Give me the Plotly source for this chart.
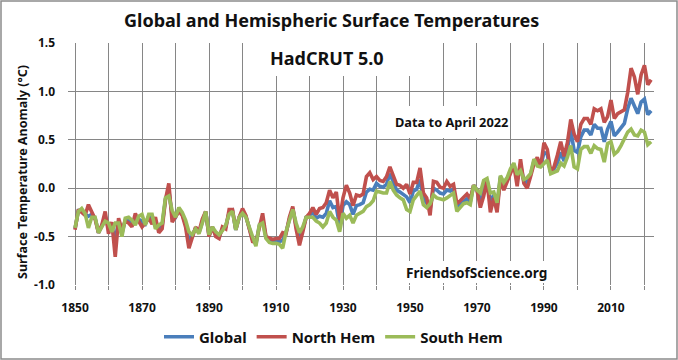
import plotly.graph_objects as go

years = list(range(1850, 2023))

global_anom = [
    -0.42, -0.23, -0.23, -0.27, -0.29, -0.27, -0.31, -0.46, -0.39, -0.29,
    -0.42, -0.40, -0.54, -0.34, -0.47, -0.33, -0.33, -0.37, -0.32, -0.32,
    -0.34, -0.37, -0.29, -0.32, -0.36, -0.42, -0.39, -0.11, -0.02, -0.29,
    -0.30, -0.22, -0.27, -0.37, -0.54, -0.49, -0.41, -0.46, -0.34, -0.24,
    -0.49, -0.40, -0.48, -0.50, -0.42, -0.40, -0.25, -0.23, -0.43, -0.30,
    -0.24, -0.29, -0.41, -0.53, -0.58, -0.39, -0.31, -0.51, -0.54, -0.55,
    -0.55, -0.55, -0.54, -0.46, -0.32, -0.21, -0.39, -0.53, -0.43, -0.30,
    -0.28, -0.25, -0.31, -0.29, -0.30, -0.26, -0.13, -0.20, -0.19, -0.39,
    -0.18, -0.14, -0.17, -0.27, -0.18, -0.17, -0.15, -0.04, -0.01, -0.02,
    0.05, 0.02, 0.01, 0.04, 0.15, 0.06, -0.02, -0.04, -0.06, -0.09,
    -0.15, -0.03, -0.01, 0.09, -0.11, -0.15, -0.22, 0.00, -0.02, -0.05,
    -0.06, -0.02, -0.03, -0.01, -0.20, -0.17, -0.13, -0.11, -0.14, 0.03,
    -0.02, -0.13, 0.00, 0.09, -0.15, -0.07, -0.20, 0.12, 0.02, 0.09,
    0.18, 0.25, 0.08, 0.24, 0.07, 0.06, 0.14, 0.28, 0.28, 0.22,
    0.37, 0.35, 0.16, 0.20, 0.26, 0.37, 0.28, 0.40, 0.60, 0.39,
    0.37, 0.53, 0.60, 0.60, 0.55, 0.66, 0.62, 0.62, 0.48, 0.61,
    0.69, 0.54, 0.58, 0.62, 0.67, 0.82, 0.93, 0.85, 0.77, 0.89,
    0.92, 0.76, 0.80,
]

north_hem = [
    -0.43, -0.22, -0.25, -0.28, -0.17, -0.24, -0.32, -0.46, -0.38, -0.24,
    -0.47, -0.35, -0.71, -0.31, -0.43, -0.34, -0.36, -0.40, -0.26, -0.34,
    -0.40, -0.36, -0.31, -0.37, -0.30, -0.46, -0.42, -0.12, 0.05, -0.35,
    -0.30, -0.24, -0.28, -0.40, -0.62, -0.50, -0.40, -0.45, -0.32, -0.24,
    -0.50, -0.40, -0.50, -0.52, -0.40, -0.42, -0.22, -0.22, -0.43, -0.30,
    -0.21, -0.28, -0.42, -0.55, -0.56, -0.40, -0.26, -0.50, -0.52, -0.53,
    -0.52, -0.52, -0.46, -0.47, -0.30, -0.19, -0.42, -0.59, -0.45, -0.30,
    -0.26, -0.20, -0.27, -0.21, -0.20, -0.15, -0.02, -0.10, -0.04, -0.33,
    -0.10, 0.03, -0.05, -0.18, -0.07, -0.08, -0.06, 0.12, 0.16, 0.09,
    0.12, 0.08, 0.07, 0.12, 0.22, 0.13, 0.04, 0.03, 0.00, 0.04,
    -0.06, 0.06, 0.06, 0.21, -0.05, -0.10, -0.28, 0.07, 0.06, 0.01,
    0.00, 0.07, 0.02, 0.04, -0.16, -0.13, -0.09, -0.06, -0.11, 0.03,
    -0.02, -0.20, -0.08, 0.08, -0.25, -0.10, -0.25, 0.10, -0.02, 0.07,
    0.15, 0.24, 0.02, 0.30, 0.05, 0.00, 0.12, 0.25, 0.32, 0.22,
    0.47, 0.40, 0.17, 0.22, 0.34, 0.48, 0.33, 0.47, 0.71, 0.56,
    0.48, 0.66, 0.72, 0.72, 0.66, 0.82, 0.80, 0.82, 0.68, 0.74,
    0.91, 0.72, 0.77, 0.79, 0.81, 0.99, 1.24, 1.15, 0.97, 1.17,
    1.27, 1.07, 1.12,
]

south_hem = [
    -0.41, -0.24, -0.21, -0.26, -0.41, -0.30, -0.30, -0.46, -0.40, -0.34,
    -0.36, -0.45, -0.36, -0.36, -0.50, -0.31, -0.30, -0.33, -0.38, -0.29,
    -0.27, -0.38, -0.27, -0.27, -0.42, -0.38, -0.36, -0.10, -0.08, -0.23,
    -0.30, -0.20, -0.25, -0.33, -0.45, -0.48, -0.42, -0.47, -0.36, -0.24,
    -0.48, -0.40, -0.45, -0.48, -0.44, -0.38, -0.27, -0.24, -0.43, -0.30,
    -0.26, -0.30, -0.40, -0.50, -0.60, -0.38, -0.36, -0.52, -0.56, -0.57,
    -0.57, -0.58, -0.62, -0.45, -0.33, -0.22, -0.36, -0.46, -0.40, -0.30,
    -0.30, -0.30, -0.34, -0.36, -0.40, -0.36, -0.24, -0.30, -0.33, -0.45,
    -0.26, -0.31, -0.28, -0.36, -0.28, -0.26, -0.24, -0.19, -0.17, -0.13,
    -0.03, -0.04, -0.05, -0.05, 0.07, -0.02, -0.07, -0.10, -0.12, -0.22,
    -0.24, -0.12, -0.07, -0.03, -0.17, -0.20, -0.16, -0.07, -0.10, -0.11,
    -0.12, -0.10, -0.08, -0.05, -0.24, -0.20, -0.16, -0.15, -0.17, 0.03,
    -0.02, -0.05, 0.08, 0.10, -0.05, -0.04, -0.15, 0.13, 0.06, 0.11,
    0.20, 0.26, 0.14, 0.18, 0.09, 0.11, 0.15, 0.30, 0.23, 0.22,
    0.26, 0.29, 0.15, 0.17, 0.18, 0.26, 0.23, 0.32, 0.44, 0.22,
    0.20, 0.40, 0.43, 0.43, 0.36, 0.44, 0.41, 0.40, 0.27, 0.46,
    0.48, 0.35, 0.38, 0.44, 0.51, 0.58, 0.61, 0.55, 0.54, 0.60,
    0.58, 0.45, 0.48,
]

series_names = ["Global", "North Hem", "South Hem"]
series_colors = ["#4A7EBB", "#C0504D", "#9BBB59"]

x_tick_vals = [1850, 1860, 1870, 1880, 1890, 1900, 1910, 1920, 1930,
               1940, 1950, 1960, 1970, 1980, 1990, 2000, 2010, 2020]
x_tick_text = ["1850", "", "1870", "", "1890", "", "1910", "", "1930",
               "", "1950", "", "1970", "", "1990", "", "2010", ""]
y_tick_vals = [-1.0, -0.5, 0.0, 0.5, 1.0, 1.5]
y_tick_text = ["-1.0", "-0.5", "0.0", "0.5", "1.0", "1.5"]

title_text = "Global and Hemispheric Surface Temperatures"
subtitle_text = "HadCRUT 5.0"
note_text = "Data to April 2022"
source_text = "FriendsofScience.org"
y_title = "Surface Temperature Anomaly (\u00b0C)"

W, H = 678, 360
ML, MR, MT, MB = 68, 24, 43, 75
PW, PH = W - ML - MR, H - MT - MB
FONT = "Noto Sans"


def px(x):
    return (x - ML) / PW


def py(y):
    return (H - MB - y) / PH


fig = go.Figure()
for name, vals, col in zip(series_names, [global_anom, north_hem, south_hem], series_colors):
    fig.add_trace(go.Scatter(
        x=years, y=vals, mode="lines", name="<b>" + name + "</b>",
        line=dict(color=col, width=3.6),
    ))

shapes = [
    dict(type="rect", xref="paper", yref="paper", x0=px(259), x1=px(413),
         y0=py(76), y1=py(40), line=dict(width=0), fillcolor="white", layer="above"),
    dict(type="rect", xref="paper", yref="paper", x0=px(385), x1=px(505),
         y0=py(138), y1=py(106), line=dict(width=0), fillcolor="white", layer="above"),
    dict(type="rect", xref="paper", yref="paper", x0=px(400), x1=px(550),
         y0=py(283), y1=py(261), line=dict(width=0), fillcolor="white", layer="above"),
    # outer chart border
    dict(type="rect", xref="paper", yref="paper", x0=px(1), x1=px(677),
         y0=py(359), y1=py(1), line=dict(color="#8C8C8C", width=1.5),
         fillcolor="rgba(0,0,0,0)", layer="above"),
]

annotations = [
    dict(text="<b>" + title_text + "</b>", x=px(331), y=py(20), xref="paper", yref="paper",
         showarrow=False, font=dict(size=18, color="#111111", family=FONT),
         xanchor="center", yanchor="middle"),
    dict(text="<b>" + subtitle_text + "</b>", x=px(327), y=py(58), xref="paper", yref="paper",
         showarrow=False, font=dict(size=18, color="#111111", family=FONT),
         xanchor="center", yanchor="middle"),
    dict(text="<b>" + note_text + "</b>", x=px(451), y=py(122), xref="paper", yref="paper",
         showarrow=False, font=dict(size=12.8, color="#111111", family=FONT),
         xanchor="center", yanchor="middle"),
    dict(text="<b>" + source_text + "</b>", x=px(476), y=py(272), xref="paper", yref="paper",
         showarrow=False, font=dict(size=13.6, color="#111111", family=FONT),
         xanchor="center", yanchor="middle"),
    dict(text="<b>" + y_title + "</b>", x=px(22), y=py(172), xref="paper", yref="paper",
         showarrow=False, textangle=-90, font=dict(size=12.5, color="#111111", family=FONT),
         xanchor="center", yanchor="middle"),
]

fig.update_layout(
    width=W, height=H, autosize=False,
    margin=dict(l=ML, r=MR, t=MT, b=MB, pad=0, autoexpand=False),
    paper_bgcolor="white", plot_bgcolor="white",
    font=dict(family=FONT, color="#111111"),
    showlegend=True,
    legend=dict(orientation="h", xref="container", yref="container",
                x=159 / W, xanchor="left", y=1 - 337 / H, yanchor="middle",
                font=dict(size=15, color="#111111", family=FONT),
                bgcolor="rgba(0,0,0,0)", itemwidth=30, traceorder="normal"),
    shapes=shapes,
    annotations=annotations,
    xaxis=dict(range=[1847.9, 2022.85], tickvals=x_tick_vals, ticktext=x_tick_text,
               showgrid=True, gridcolor="#868686", gridwidth=1, automargin=False,
               zeroline=False, showline=False, ticks="outside", ticklen=4,
               tickcolor="#868686", ticklabelstandoff=8,
               tickfont=dict(size=12, color="#111111", family=FONT, weight="bold")),
    yaxis=dict(range=[-1.0, 1.5], tickvals=y_tick_vals, ticktext=y_tick_text,
               showgrid=True, gridcolor="#868686", gridwidth=1, automargin=False,
               zeroline=False, showline=False, ticks="", ticklabelstandoff=12,
               tickfont=dict(size=12, color="#111111", family=FONT, weight="bold")),
)

post_js = "document.body.style.margin='0';"

fig.write_html("out.html", post_script=post_js, config={"displayModeBar": False})
